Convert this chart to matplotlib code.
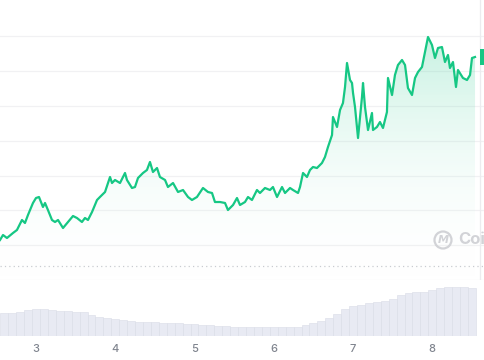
import numpy as np
import matplotlib
matplotlib.use("Agg")
import matplotlib.pyplot as plt
from matplotlib.colors import LinearSegmentedColormap
from matplotlib.patches import Circle

# price series (x in month-ish units, arbitrary price units)
price_x = [2.546, 2.584, 2.634, 2.710, 2.760, 2.823, 2.861, 2.899, 2.962, 3.000,
           3.038, 3.088, 3.114, 3.151, 3.202, 3.240, 3.278, 3.341, 3.404, 3.467,
           3.517, 3.580, 3.618, 3.656, 3.707, 3.770, 3.807, 3.871, 3.934, 3.959,
           3.997, 4.060, 4.123, 4.148, 4.211, 4.249, 4.287, 4.350, 4.400, 4.438,
           4.476, 4.527, 4.564, 4.628, 4.665, 4.729, 4.792, 4.855, 4.918, 4.968,
           5.031, 5.107, 5.170, 5.221, 5.258, 5.322, 5.385, 5.422, 5.486, 5.536,
           5.574, 5.637, 5.675, 5.725, 5.788, 5.826, 5.889, 5.952, 5.990, 6.041,
           6.104, 6.142, 6.205, 6.243, 6.306, 6.331, 6.369, 6.419, 6.457, 6.495,
           6.545, 6.608, 6.646, 6.684, 6.735, 6.747, 6.798, 6.836, 6.873, 6.899,
           6.924, 6.962, 6.987, 7.000, 7.025, 7.050, 7.063, 7.088, 7.113, 7.126,
           7.151, 7.189, 7.239, 7.252, 7.302, 7.340, 7.378, 7.428, 7.441, 7.492,
           7.529, 7.567, 7.618, 7.656, 7.693, 7.744, 7.782, 7.820, 7.870, 7.908,
           7.946, 7.996, 8.034, 8.072, 8.122, 8.160, 8.198, 8.223, 8.261, 8.299,
           8.324, 8.387, 8.438, 8.476, 8.501, 8.539]
price = [1.149, 1.293, 1.207, 1.351, 1.437, 1.724, 1.638, 1.868, 2.213, 2.356,
         2.385, 2.098, 2.213, 2.011, 1.724, 1.667, 1.724, 1.494, 1.667, 1.839,
         1.782, 1.667, 1.782, 1.724, 1.954, 2.299, 2.385, 2.529, 2.960, 2.787,
         2.874, 2.787, 3.075, 2.874, 2.644, 2.672, 2.931, 3.075, 3.161, 3.391,
         3.103, 3.218, 2.960, 2.874, 2.672, 2.787, 2.529, 2.586, 2.385, 2.299,
         2.385, 2.644, 2.529, 2.500, 2.241, 2.241, 2.213, 2.011, 2.155, 2.356,
         2.155, 2.241, 2.385, 2.299, 2.586, 2.500, 2.644, 2.586, 2.672, 2.385,
         2.672, 2.500, 2.644, 2.586, 2.500, 2.672, 3.075, 2.960, 3.161, 3.247,
         3.218, 3.362, 3.534, 3.822, 4.167, 4.684, 4.397, 4.885, 5.086, 5.546,
         6.236, 5.747, 5.661, 5.374, 4.971, 4.397, 4.080, 4.684, 5.259, 5.661,
         4.971, 4.310, 4.799, 4.310, 4.397, 4.540, 4.368, 4.828, 5.805, 5.316,
         5.891, 6.178, 6.322, 6.178, 5.517, 5.316, 5.805, 5.977, 6.121, 6.552,
         6.983, 6.753, 6.379, 6.667, 6.695, 6.264, 6.466, 6.092, 6.264, 5.546,
         6.034, 5.805, 5.747, 5.891, 6.379, 6.408]

# volume bars
vol_x = [round(2.55 + 0.1 * i, 2) for i in range(60)]
volume = [2.3, 2.35, 2.4, 2.6, 2.7, 2.7, 2.6, 2.5, 2.5, 2.4,
          2.4, 2.1, 1.9, 1.8, 1.7, 1.6, 1.5, 1.4, 1.4, 1.4,
          1.3, 1.3, 1.3, 1.2, 1.2, 1.1, 1.1, 1.0, 1.0, 0.9,
          0.9, 0.9, 0.9, 0.9, 0.9, 0.9, 0.9, 0.9, 1.1, 1.3,
          1.5, 1.8, 2.2, 2.7, 3.0, 3.1, 3.3, 3.4, 3.5, 3.7,
          4.1, 4.3, 4.4, 4.4, 4.6, 4.8, 4.9, 4.9, 4.9, 4.8]

ticks = [3, 4, 5, 6, 7, 8]
GREEN = "#16c784"

fig = plt.figure(figsize=(4.85, 3.6), dpi=100)
ax = fig.add_axes([0, 80 / 360, 1, 280 / 360])
axv = fig.add_axes([0, 24 / 360, 1, 56 / 360], sharex=ax)

xmin, xmax = 2.546, 8.665
ymin, ymax = 0, 8.046
ax.set_xlim(xmin, xmax)
ax.set_ylim(ymin, ymax)

for g in range(1, 8):
    ax.axhline(g, color="#f1f1f3", lw=0.9, zorder=0)
ax.axhline(0, color="#f1f1f3", lw=0.9, zorder=0)
ax.axhline(0.402, color="#c9cbd0", lw=0.9, ls=(0, (1, 2.5)), zorder=0)
ax.axvline(8.602, color="#ececef", lw=0.9, zorder=0)

# gradient fill under the line
poly = ax.fill_between(price_x, price, ymin, color="none", lw=0)
cmap = LinearSegmentedColormap.from_list(
    "g", [(1, 1, 1, 0), (0.086, 0.78, 0.52, 0.32)])
grad = np.linspace(0, 1, 256).reshape(-1, 1)
img = ax.imshow(grad, cmap=cmap, origin="lower", aspect="auto",
                extent=[xmin, xmax, ymin, ymax], zorder=1)
img.set_clip_path(poly.get_paths()[0], transform=ax.transData)

ax.plot(price_x, price, color=GREEN, lw=1.6, zorder=3, solid_joinstyle="round")

# last price label (cut off at right edge)
ax.annotate("    ", xy=(8.64, price[-1]), xycoords="data", va="center",
            ha="left", fontsize=7,
            bbox=dict(boxstyle="square,pad=0.3", fc=GREEN, ec="none"),
            annotation_clip=False)

for s in ax.spines.values():
    s.set_visible(False)
ax.set_xticks([])
ax.set_yticks([])

# volume
axv.bar(vol_x, volume, width=0.1, align="edge", color="#e8eaf3",
        edgecolor="#d9dce7", linewidth=0.4)
axv.set_ylim(0, 5.6)
axv.set_xlim(xmin, xmax)
for s in axv.spines.values():
    s.set_visible(False)
axv.set_yticks([])
axv.set_xticks(ticks)
axv.set_xticklabels([str(t) for t in ticks])
axv.tick_params(axis="x", length=0, pad=6, labelsize=8, labelcolor="#80858f")
for lab in axv.get_xticklabels():
    lab.set_family("Inter")
    lab.set_fontweight("medium")

# watermark
fig.patches.append(Circle((443, 120), 8.5, transform=None, fill=False,
                          ec="#d2d3d7", lw=1.6))
fig.text(443 / 485, 120 / 360, "M", ha="center", va="center", fontsize=8,
         color="#d2d3d7", fontweight="bold", style="italic")
fig.text(458 / 485, 120 / 360, "CoinGecko", ha="left", va="center",
         fontsize=12, color="#d2d3d7", fontweight="bold", family="Inter")

fig.savefig("out.png", dpi=100)
